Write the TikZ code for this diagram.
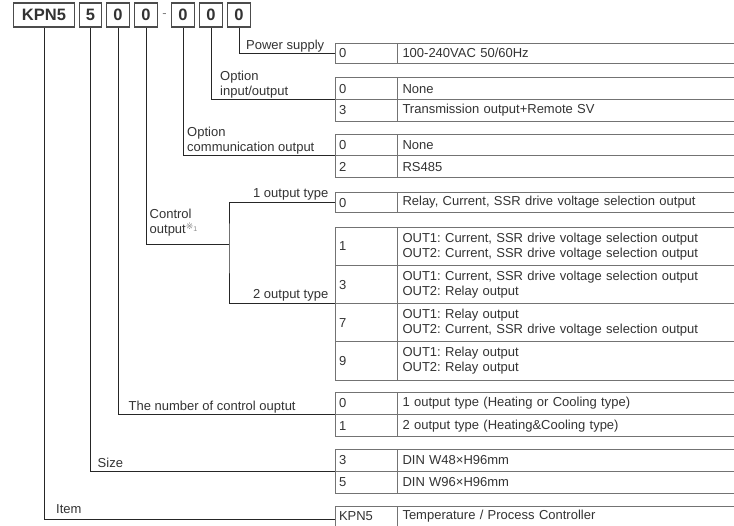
\documentclass[tikz,border=0pt]{standalone}
\usepackage{fontspec}
\setmainfont{Liberation Sans}
\newfontfamily\marksym{DejaVu Sans}
\usetikzlibrary{positioning}
\frenchspacing

\begin{document}
\begin{tikzpicture}[x=1pt, y=-1pt, font=\fontsize{13}{15}\selectfont, text=black!80, node distance=0pt]
\tikzset{
  digit/.style ={draw=black!70, line width=1.2pt, font=\fontsize{16.5}{18}\selectfont\bfseries,
                 minimum height=24pt, minimum width=22.5pt, inner sep=0pt},
  code/.style  ={draw=black!55, line width=0.8pt, outer sep=0pt, anchor=north west, text width=54pt,
                 align=left, inner xsep=4pt, inner ysep=0pt, minimum height=#1},
  code/.default=21pt,
  desc/.style  ={draw=black!55, line width=0.8pt, outer sep=0pt, anchor=north west, text width=332pt,
                 align=left, inner xsep=5.5pt, inner ysep=0pt, minimum height=#1},
  desc/.default=21pt,
  lbl/.style   ={anchor=base west, inner sep=0pt, align=left},
  wire/.style  ={draw=black!85, line width=0.8pt}
}
\path[use as bounding box, fill=white] (0,0) rectangle (734,526);
% model code
\node (b0)[digit, minimum width=61.5pt] at (44,15) {KPN5};
\node (b1)[digit] at (90.5,15) {5};
\node (b2)[digit] at (118,15) {0};
\node (b3)[digit] at (146,15) {0};
\node (dash)[text=black!50] at (164.5,16) {-};
\node (b4)[digit] at (183,15) {0};
\node (b5)[digit] at (211,15) {0};
\node (b6)[digit] at (239,15) {0};
% tables
\node (pw0)[code=20pt] at (335,43.3) {0};
\node (pw0d)[desc=20pt, right=of pw0] {100-240VAC 50/60Hz};
\node (io0)[code=21.8pt] at (335,77.8) {0};
\node (io0d)[desc=21.8pt, right=of io0] {None};
\node (io3)[code=21.8pt, below=of io0] {3};
\node (io3d)[desc=21.8pt, right=of io3] {Transmission output+Remote SV};
\node (cm0)[code=21.8pt] at (335,134) {0};
\node (cm0d)[desc=21.8pt, right=of cm0] {None};
\node (cm2)[code=21.8pt, below=of cm0] {2};
\node (cm2d)[desc=21.8pt, right=of cm2] {RS485};
\node (c10)[code=19.6pt] at (335,192.8) {0};
\node (c10d)[desc=19.6pt, right=of c10] {Relay, Current, SSR drive voltage selection output};
\node (c21)[code=38.2pt] at (335,227.3) {1};
\node (c21d)[desc=38.2pt, right=of c21] {OUT1: Current, SSR drive voltage selection output\\OUT2: Current, SSR drive voltage selection output};
\node (c23)[code=38.2pt, below=of c21] {3};
\node (c23d)[desc=38.2pt, right=of c23] {OUT1: Current, SSR drive voltage selection output\\OUT2: Relay output};
\node (c27)[code=38.2pt, below=of c23] {7};
\node (c27d)[desc=38.2pt, right=of c27] {OUT1: Relay output\\OUT2: Current, SSR drive voltage selection output};
\node (c29)[code=38.2pt, below=of c27] {9};
\node (c29d)[desc=38.2pt, right=of c29] {OUT1: Relay output\\OUT2: Relay output};
\node (nm0)[code=22.3pt] at (335,392.3) {0};
\node (nm0d)[desc=22.3pt, right=of nm0] {1 output type (Heating or Cooling type)};
\node (nm1)[code=22.3pt, below=of nm0] {1};
\node (nm1d)[desc=22.3pt, right=of nm1] {2 output type (Heating\&Cooling type)};
\node (sz3)[code=22pt] at (335,449.5) {3};
\node (sz3d)[desc=22pt, right=of sz3] {DIN W48×H96mm};
\node (sz5)[code=22pt, below=of sz3] {5};
\node (sz5d)[desc=22pt, right=of sz5] {DIN W96×H96mm};
\node (itm)[code=21pt] at (335,506) {KPN5};
\node (itmd)[desc=21pt, right=of itm] {Temperature / Process Controller};
% connectors
\coordinate (cj) at (229,244);
\draw[wire] (b6.south) |- (pw0.west);
\draw[wire] (b5.south) |- (io0.south west);
\draw[wire] (b4.south) |- (cm0.south west);
\draw[wire] (b3.south) |- (cj);
\draw[wire] (c10.west) -| (cj) |- (c23.south west);
\draw[wire] (b2.south) |- (nm0.south west);
\draw[wire] (b1.south) |- (sz3.south west);
\draw[wire] (b0.south) |- ([yshift=-3pt]itm.west);
% labels
\node (lpw)[lbl] at (246,50) {Power supply};
\node (lio)[lbl] at (220,95.5) {Option\\input/output};
\node (lcm)[lbl] at (187,152) {Option\\communication output};
\node (lct)[lbl] at (149.5,234) {Control\\output\textcolor{black!45}{\raisebox{4pt}{\fontsize{9}{9}\selectfont\marksym ※}\raisebox{2pt}{\fontsize{7}{7}\selectfont 1}}};
\node (l1t)[lbl, anchor=base east] at (328.5,197.5) {1 output type};
\node (l2t)[lbl, anchor=base east] at (328.5,298.5) {2 output type};
\node (lnm)[lbl] at (128.5,410.5) {The number of control ouptut};
\node (lsz)[lbl] at (97.5,467.5) {Size};
\node (lit)[lbl] at (56,514) {Item};
\end{tikzpicture}
\end{document}
